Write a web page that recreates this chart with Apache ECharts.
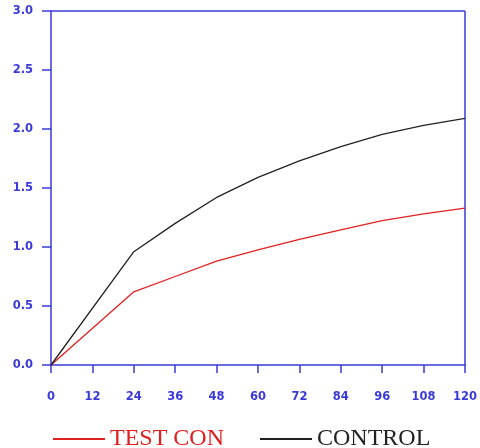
<!DOCTYPE html>
<html><head><meta charset="utf-8">
<script src="https://cdn.jsdelivr.net/npm/echarts@6/dist/echarts.min.js"></script>
<style>html,body{margin:0;padding:0;background:#fff}#c{width:480px;height:448px}</style>
</head><body><div id="c"></div>
<script>
const hours = [0, 24, 36, 48, 60, 72, 84, 96, 108, 120];
const testCon = [0, 0.62, 0.75, 0.88, 0.975, 1.065, 1.145, 1.223, 1.28, 1.33];
const control = [0, 0.96, 1.2, 1.42, 1.59, 1.73, 1.85, 1.955, 2.03, 2.09];
const xTicks = [0, 12, 24, 36, 48, 60, 72, 84, 96, 108, 120];
const seriesNames = ['TEST CON', 'CONTROL'];
const axisColor = '#3a3ad8';
const chart = echarts.init(document.getElementById('c'), null, {renderer: 'canvas'});
const lblStyle = {color: axisColor, fontFamily: 'DejaVu Sans', fontWeight: 'bold', fontSize: 11.5};
chart.setOption({
  animation: false,
  grid: {left: 51, right: 15, top: 11, bottom: 83},
  xAxis: {
    type: 'value', min: 0, max: 120, interval: 12,
    axisLine: {show: true, lineStyle: {color: axisColor, width: 1.5}},
    axisTick: {show: true, length: 8, lineStyle: {color: axisColor, width: 1.5}},
    axisLabel: Object.assign({margin: 26, formatter: v => xTicks.includes(v) ? String(v) : ''}, lblStyle),
    splitLine: {show: false}
  },
  yAxis: {
    type: 'value', min: 0, max: 3, interval: 0.5,
    axisLine: {show: true, lineStyle: {color: axisColor, width: 1.5}},
    axisTick: {show: true, length: 9, lineStyle: {color: axisColor, width: 1.5}},
    axisLabel: Object.assign({margin: 18, formatter: v => v.toFixed(1)}, lblStyle),
    splitLine: {show: false}
  },
  legend: {
    left: 48, top: 422, itemWidth: 52, itemHeight: 2, itemGap: 36, icon: 'rect',
    textStyle: {fontFamily: 'Liberation Serif', fontSize: 24},
    data: [
      {name: seriesNames[0], textStyle: {color: '#e02020'}, itemStyle: {color: '#e02020'}},
      {name: seriesNames[1], textStyle: {color: '#222'}, itemStyle: {color: '#222'}}
    ]
  },
  graphic: [
    {type: 'line', shape: {x1: 51, y1: 11, x2: 465, y2: 11}, style: {stroke: axisColor, lineWidth: 1.5}},
    {type: 'line', shape: {x1: 465, y1: 11, x2: 465, y2: 365}, style: {stroke: axisColor, lineWidth: 1.5}}
  ],
  series: [
    {name: seriesNames[0], type: 'line', data: hours.map((h, i) => [h, testCon[i]]), showSymbol: false,
     lineStyle: {color: '#e02020', width: 1.3}, itemStyle: {color: '#e02020'}},
    {name: seriesNames[1], type: 'line', data: hours.map((h, i) => [h, control[i]]), showSymbol: false,
     lineStyle: {color: '#222', width: 1.3}, itemStyle: {color: '#222'}}
  ]
});
</script></body></html>
